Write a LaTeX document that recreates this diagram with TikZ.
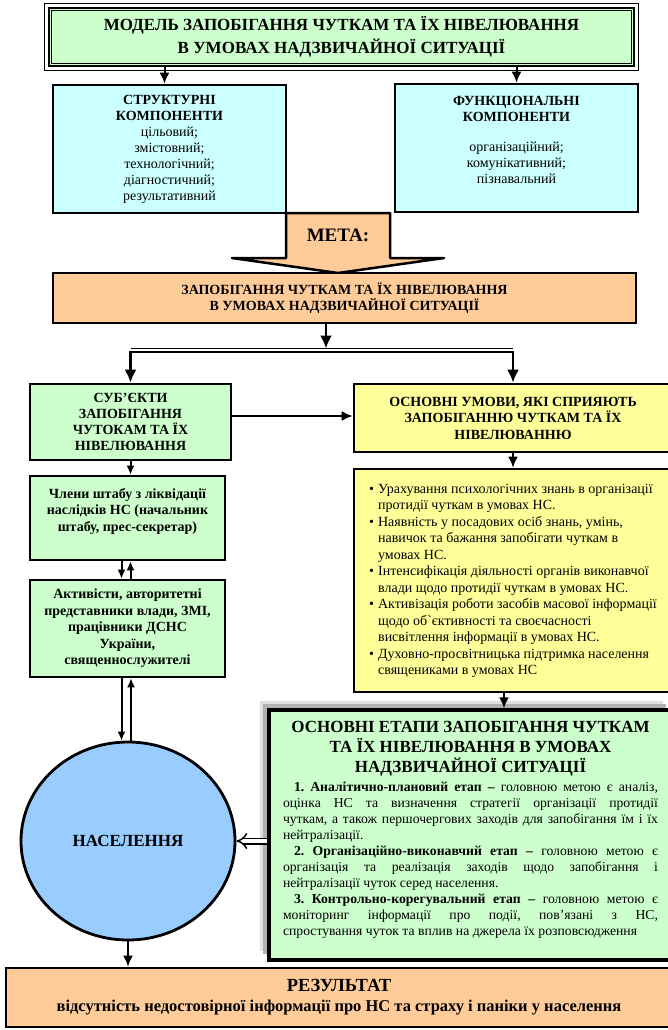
\documentclass[tikz,border=0pt]{standalone}
\usepackage{fontspec}
\setmainfont{Liberation Serif}
\usepackage{xcolor}
\usepackage{tikz}
\usetikzlibrary{shapes.geometric}
\usetikzlibrary{shadows}
\usetikzlibrary{arrows.meta}
\definecolor{palegreen}{HTML}{CCFFCC}
\definecolor{palecyan}{HTML}{CCFFFF}
\definecolor{paleorange}{HTML}{FFCC99}
\definecolor{paleyellow}{HTML}{FFFF99}
\definecolor{paleblue}{HTML}{99CCFF}
\newcommand{\fsz}[2]{\fontsize{#1}{#2}\selectfont}
\tikzset{>={Latex[length=11pt,width=10pt]}}
\tikzset{
  box/.style={draw, line width=2.6pt, inner sep=0pt, align=center},
  greenbox/.style={box, fill=palegreen},
  cyanbox/.style={box, fill=palecyan, font=\fsz{14}{16}},
  orangebox/.style={box, fill=paleorange},
  yellowbox/.style={box, fill=paleyellow},
  arrowline/.style={->, line width=2pt},
  bigarrow/.style={-{Latex[length=13pt,width=12pt]}, line width=2.5pt},
  smallarrow/.style={-{Latex[length=9pt,width=8pt]}, line width=2pt},
  hollowarrow/.style={-{Implies}, double, double distance=4pt, line width=1.5pt}
}

\begin{document}
\begin{tikzpicture}[x=1pt, y=-1pt]
  \useasboundingbox (0,0) rectangle (667,1030);

  % title
  \node[greenbox, line width=2.2pt, minimum width=585pt, minimum height=58pt,
        font=\fsz{17}{23}\bfseries] (model) at (341.5,37)
        {МОДЕЛЬ ЗАПОБІГАННЯ ЧУТКАМ ТА ЇХ НІВЕЛЮВАННЯ\\В УМОВАХ НАДЗВИЧАЙНОЇ СИТУАЦІЇ};
  \draw[line width=0.8pt] ([shift={(-3.5pt,3.5pt)}]model.north west) rectangle ([shift={(3.5pt,-3.5pt)}]model.south east);
  \draw[line width=0.6pt] ([shift={(3.5pt,-3.5pt)}]model.north west) rectangle ([shift={(-3.5pt,3.5pt)}]model.south east);

  % components
  \node[cyanbox, minimum width=233pt, minimum height=128pt] (struct) at (169.5,149)
        {\textbf{СТРУКТУРНІ}\\\textbf{КОМПОНЕНТИ}\\цільовий;\\змістовний;\\технологічний;\\діагностичний;\\результативний};
  \node[cyanbox, minimum width=243pt, minimum height=128pt] (func) at (516.5,148)
        {\textbf{ФУНКЦІОНАЛЬНІ}\\\textbf{КОМПОНЕНТИ}\\[14pt]організаційний;\\комунікативний;\\пізнавальний\\\mbox{}};
  \draw[arrowline] ([xshift=-5pt]model.south -| struct.north) -- ([xshift=-5pt]struct.north);
  \draw[arrowline] (model.south -| func.north) -- (func.north);

  % meta arrow
  \draw[fill=paleorange, line width=2.5pt, line join=round]
        (286,213) -- (286,258) -- (232,258) -- (338,273) -- (444,258) -- (390,258) -- (390,213) -- cycle;
  \node[font=\fsz{19}{21}\bfseries] (meta) at (338,235) {МЕТА:};

  \node[orangebox, minimum width=583pt, minimum height=50pt, font=\fsz{14}{16}\bfseries] (goal) at (344.5,298)
        {ЗАПОБІГАННЯ ЧУТКАМ ТА ЇХ НІВЕЛЮВАННЯ\\В УМОВАХ НАДЗВИЧАЙНОЇ СИТУАЦІЇ};

  % subjects and conditions
  \node[greenbox, minimum width=201pt, minimum height=76pt, font=\fsz{14}{16}\bfseries] (subj) at (130.5,422)
        {СУБ’ЄКТИ\\ЗАПОБІГАННЯ\\ЧУТОКАМ ТА ЇХ\\НІВЕЛЮВАННЯ};
  \node[yellowbox, minimum width=318pt, minimum height=68pt, font=\fsz{14}{16.5}\bfseries] (cond) at (513,418)
        {ОСНОВНІ УМОВИ, ЯКІ СПРИЯЮТЬ\\ЗАПОБІГАННЮ ЧУТКАМ ТА ЇХ\\НІВЕЛЮВАННЮ};

  \coordinate (split) at (326,352);
  \draw[bigarrow] (goal.south -| split) -- ([yshift=3.5pt]split);
  \draw[line width=0.7pt] ([yshift=3.5pt]split -| subj.north) -- ([yshift=3.5pt]split -| cond.north);
  \draw[bigarrow] (split) -| (subj.north);
  \draw[bigarrow] (split) -| (cond.north);
  \draw[arrowline] ([yshift=6pt]subj.east) -- ([yshift=6pt]subj.east -| cond.west);

  % left column
  \node[greenbox, minimum width=195pt, minimum height=84pt, font=\fsz{14}{16.5}\bfseries] (memb) at (127.5,518)
        {Члени штабу з ліквідації\\наслідків НС (начальник\\штабу, прес-секретар)\\\mbox{}};
  \node[greenbox, minimum width=195pt, minimum height=97pt, font=\fsz{14}{16.5}\bfseries] (activ) at (127.5,628.5)
        {Активісти, авторитетні\\представники влади, ЗМІ,\\працівники ДСНС\\України,\\священнослужителі};
  \node[ellipse, draw, line width=2.8pt, fill=paleblue, minimum width=214pt, minimum height=198pt,
        inner sep=0pt, font=\fsz{17}{19}\bfseries] (pop) at (128,841) {НАСЕЛЕННЯ};

  \draw[smallarrow] (subj.south) -- (subj.south |- memb.north);
  \draw[smallarrow] ([xshift=-6pt]memb.south) -- ([xshift=-6pt]memb.south |- activ.north);
  \draw[smallarrow] ([xshift=3pt]activ.north) -- ([xshift=3pt]activ.north |- memb.south);
  \draw[smallarrow] ([xshift=-6pt]activ.south) -- ([xshift=-6pt]activ.south |- pop.north);
  \draw[smallarrow] ([xshift=3pt]pop.north) -- ([xshift=3pt]pop.north |- activ.south);

  % conditions list
  \node[yellowbox, minimum width=318pt, minimum height=223pt, font=\fsz{14}{16.5}] (list) at (513,580.5)
        {\begin{tabular}{@{}l@{\hspace{4pt}}l@{}}
         •&Урахування психологічних знань в організації\\
         &протидії чуткам в умовах НС.\\
         •&Наявність у посадових осіб знань, умінь,\\
         &навичок та бажання запобігати чуткам в\\
         &умовах НС.\\
         •&Інтенсифікація діяльності органів виконавчої\\
         &влади щодо протидії чуткам в умовах НС.\\
         •&Активізація роботи засобів масової інформації\\
         &щодо об\textasciigrave єктивності та своєчасності\\
         &висвітлення інформації в умовах НС.\\
         •&Духовно-просвітницька підтримка населення\\
         &священиками в умовах НС
         \end{tabular}};
  \draw[arrowline] (cond.south) -- (list.north);

  % stages
  \node[greenbox, line width=3.5pt, minimum width=403pt, minimum height=250pt,
        general shadow={fill=gray!25, shadow xshift=-9pt, shadow yshift=9pt},
        general shadow={fill=gray!60, shadow xshift=-6pt, shadow yshift=6pt}] (stages) at (470.5,835)
        {\parbox{375pt}{{\centering\fsz{17}{20}\bfseries ОСНОВНІ ЕТАПИ ЗАПОБІГАННЯ ЧУТКАМ\\ТА ЇХ НІВЕЛЮВАННЯ В УМОВАХ\\НАДЗВИЧАЙНОЇ СИТУАЦІЇ\par}
         \vspace{3pt}\fsz{13.7}{16}\frenchspacing\setlength{\parindent}{11pt}%
         \textbf{1. Аналітично-плановий етап –} головною метою є аналіз,\linebreak
         оцінка НС та визначення стратегії організації протидії\linebreak
         чуткам, а також першочергових заходів для запобігання їм і їх\linebreak
         нейтралізації.\par
         \textbf{2. Організаційно-виконавчий етап –} головною метою є\linebreak
         організація та реалізація заходів щодо запобігання і\linebreak
         нейтралізації чуток серед населення.\par
         \textbf{3. Контрольно-корегувальний етап –} головною метою є\linebreak
         моніторинг інформації про події, пов’язані з НС,\linebreak
         спростування чуток та вплив на джерела їх розповсюдження\par
         \vspace{10pt}}};
  \draw[arrowline] ([xshift=-9pt]list.south) -- ([xshift=-9pt]list.south |- stages.north);
  \draw[hollowarrow] (stages.west |- pop.east) -- (pop.east);

  % result
  \node[orangebox, minimum width=666pt, minimum height=59pt, font=\fsz{16.5}{20}\bfseries] (res) at (339,997.5)
        {{\fsz{18.5}{20}\bfseries РЕЗУЛЬТАТ}\\відсутність недостовірної інформації про НС та страху і паніки у населення};
  \draw[arrowline] (pop.south) -- (pop.south |- res.north);
\end{tikzpicture}
\end{document}
